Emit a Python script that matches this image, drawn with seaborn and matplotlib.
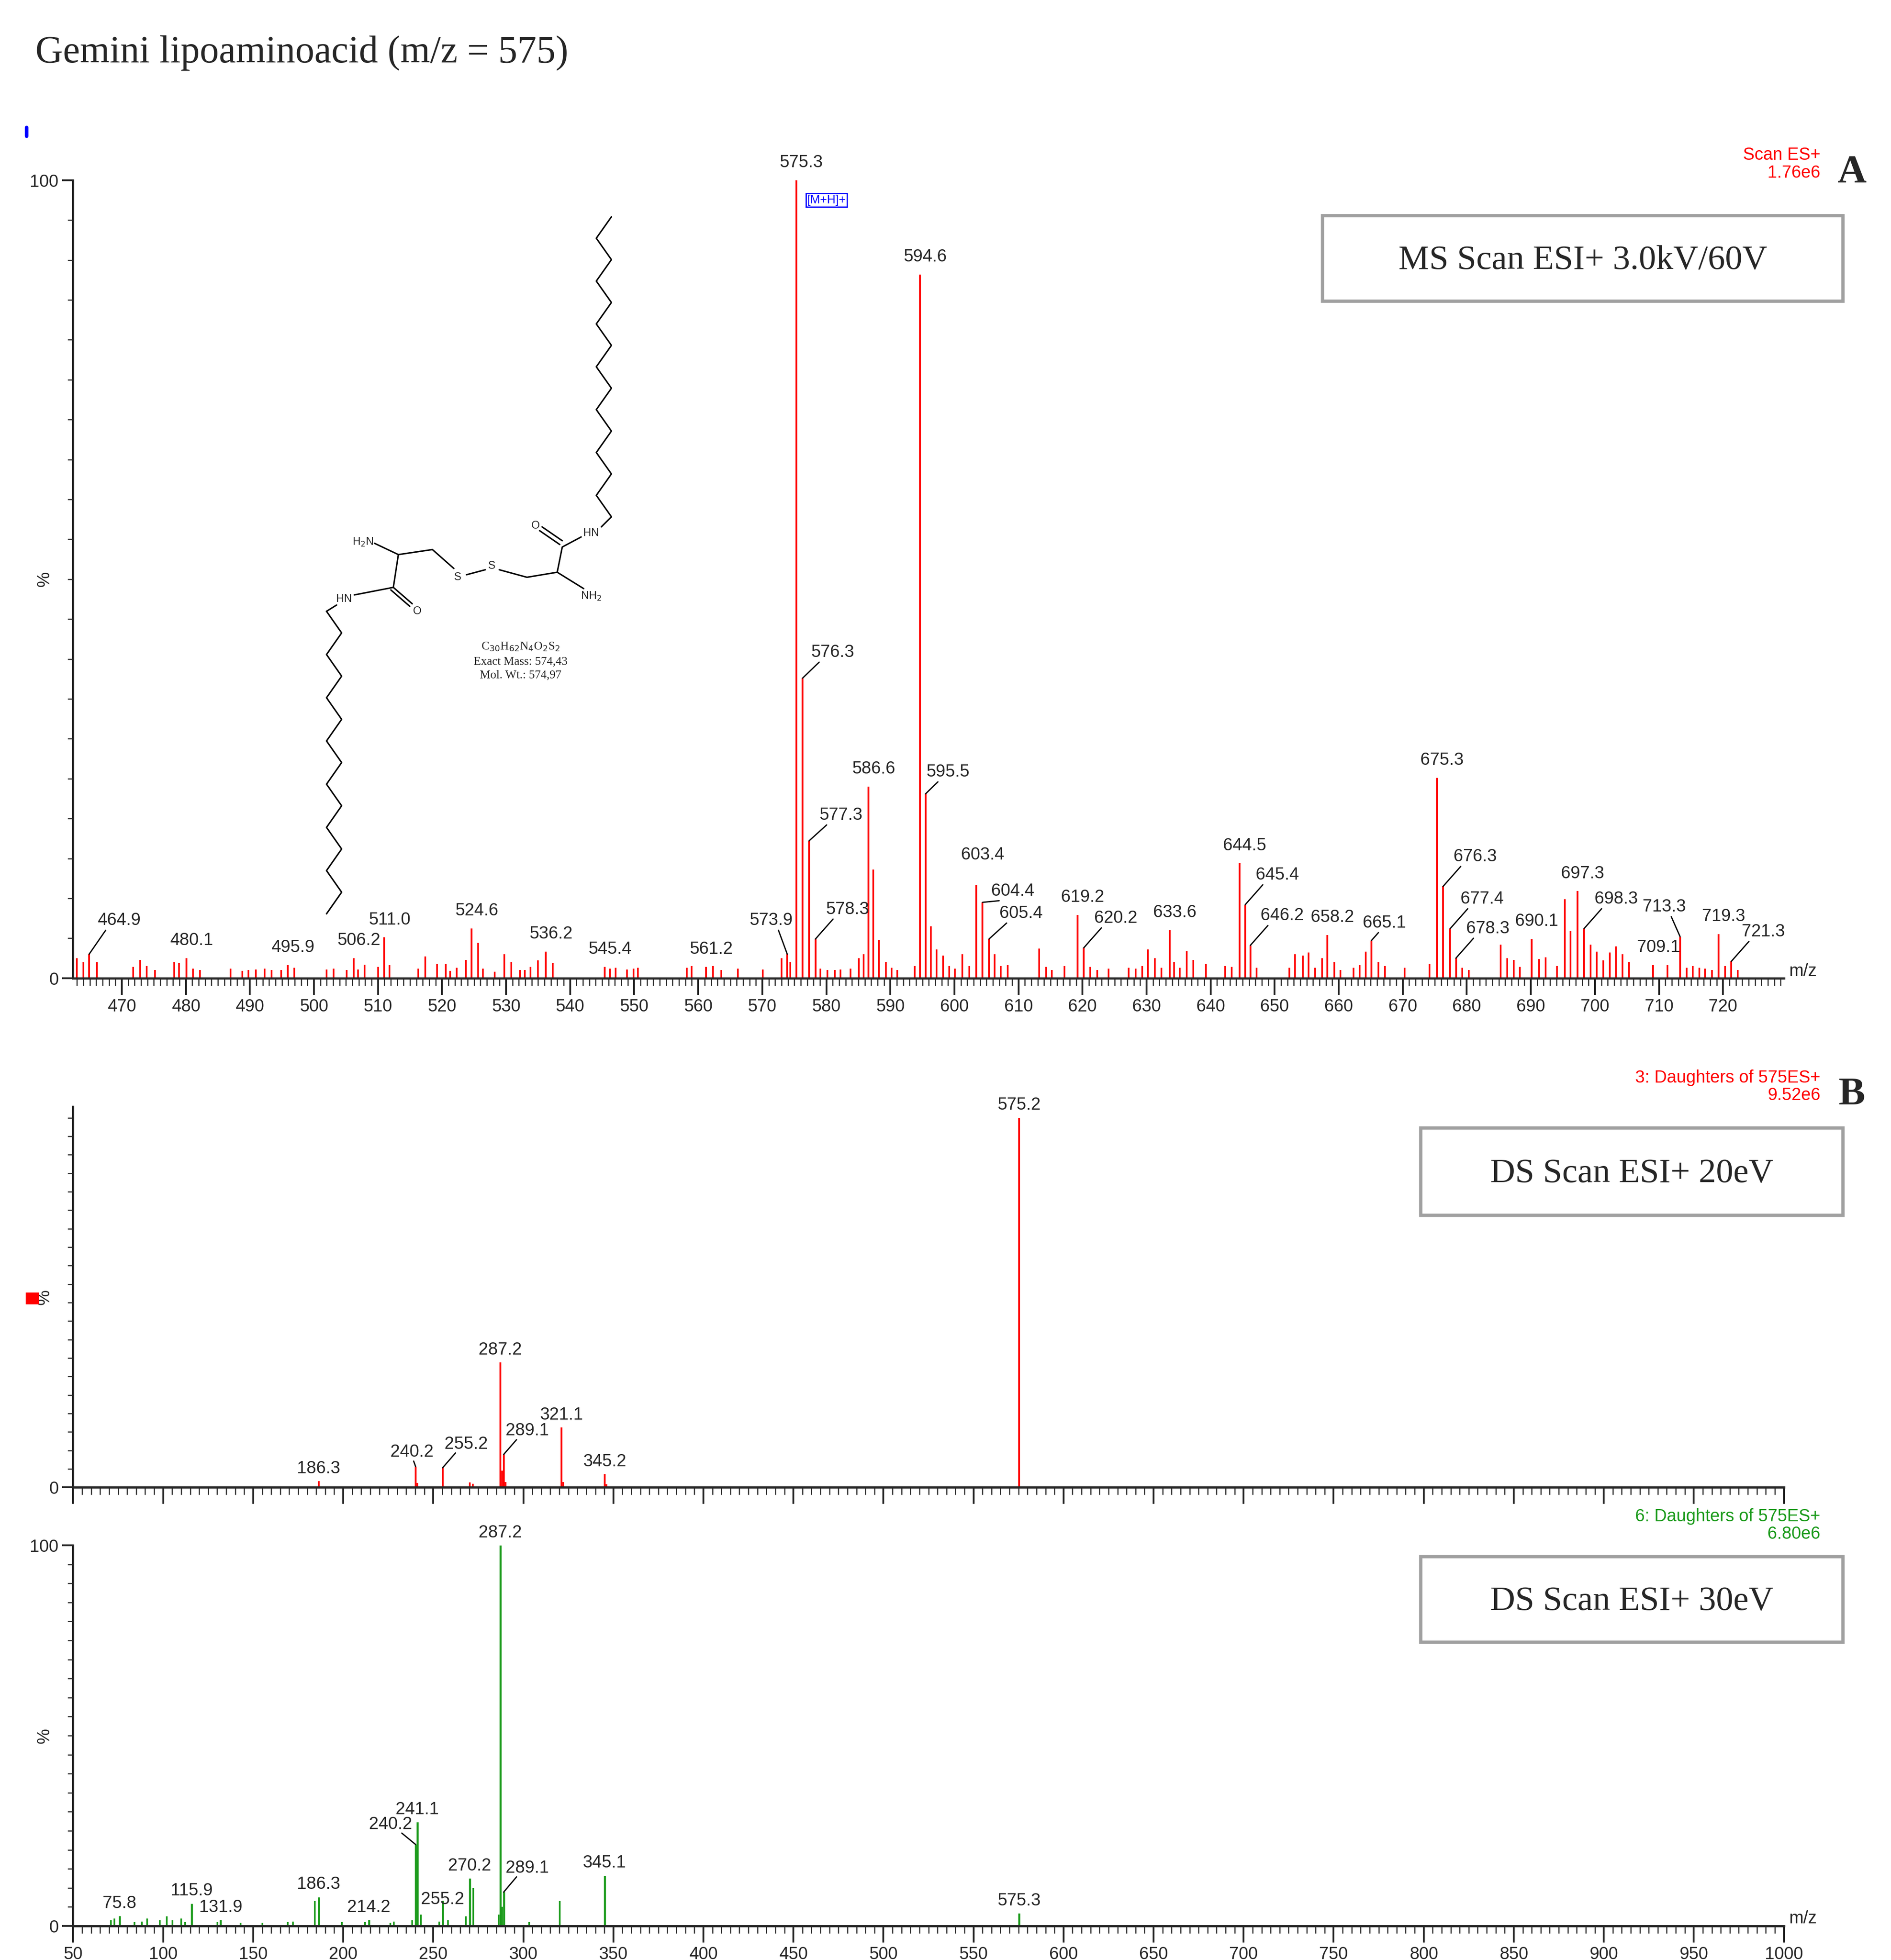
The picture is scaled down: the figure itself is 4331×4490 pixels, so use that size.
import matplotlib
matplotlib.use("Agg")
import matplotlib.pyplot as plt
import numpy as np
import seaborn as sns
from matplotlib.ticker import MultipleLocator

sns.set_style("ticks")
plt.rcParams["font.family"] = ["Liberation Sans", "DejaVu Sans"]

# ---- Panel A: MS scan ----
a_peaks = [464.9, 480.1, 495.9, 506.2, 511.0, 524.6, 536.2, 545.4, 561.2, 573.9,
           575.3, 576.3, 577.3, 578.3, 586.6, 594.6, 595.5, 603.4, 604.4, 605.4,
           619.2, 620.2, 633.6, 644.5, 645.4, 646.2, 658.2, 665.1, 675.3, 676.3,
           677.4, 678.3, 690.1, 697.3, 698.3, 709.1, 713.3, 719.3, 721.3]
a_heights = [3.0, 2.5, 1.6, 2.5, 5.1, 6.2, 3.3, 1.4, 1.4, 3.0,
             100, 37.6, 17.2, 4.9, 24.0, 88.2, 23.1, 11.7, 9.5, 4.9,
             7.9, 3.8, 6.0, 14.4, 9.2, 4.1, 5.4, 4.7, 25.1, 11.5,
             6.2, 2.5, 4.9, 10.9, 6.2, 1.6, 5.2, 5.5, 2.1]
a_minor_mz = [463.0, 464.0, 466.1, 471.8, 472.9, 473.9, 475.2, 478.2, 478.9, 481.1,
              482.2, 487.0, 488.8, 489.8, 490.9, 492.3, 493.4, 494.9, 496.9, 502.0,
              503.1, 505.1, 506.9, 507.9, 510.0, 511.8, 516.3, 517.4, 519.2, 520.6,
              521.3, 522.3, 523.7, 525.6, 526.4, 528.2, 529.7, 530.8, 532.2, 532.9,
              533.8, 535.0, 537.3, 546.2, 547.1, 548.9, 549.9, 550.6, 558.2, 559.0,
              562.3, 563.6, 566.2, 570.1, 573.0, 574.4, 579.1, 580.2, 581.3, 582.2,
              583.8, 585.1, 585.8, 587.3, 588.2, 589.3, 590.2, 591.1, 593.8, 596.3,
              597.2, 598.2, 599.2, 600.1, 601.2, 602.3, 606.3, 607.2, 608.3, 613.2,
              614.3, 615.2, 617.2, 621.2, 622.3, 624.1, 627.2, 628.3, 629.3, 630.2,
              631.3, 632.3, 634.3, 635.2, 636.3, 637.3, 639.3, 642.3, 643.3, 647.2,
              652.3, 653.2, 654.4, 655.3, 656.3, 657.4, 659.3, 660.3, 662.3, 663.3,
              664.2, 666.2, 667.2, 670.3, 674.2, 679.3, 680.3, 685.3, 686.3, 687.3,
              688.3, 691.3, 692.3, 694.1, 695.3, 696.2, 699.3, 700.3, 701.3, 702.3,
              703.3, 704.3, 705.3, 711.3, 714.3, 715.3, 716.3, 717.2, 718.3, 720.3,
              722.3]
a_minor_h = [2.5, 2.0, 2.0, 1.4, 2.3, 1.5, 1.0, 2.0, 1.9, 1.2,
             1.0, 1.2, 0.9, 1.0, 1.1, 1.2, 1.0, 1.0, 1.3, 1.1,
             1.2, 1.0, 1.1, 1.7, 1.4, 1.6, 1.2, 2.7, 1.8, 1.8,
             0.9, 1.3, 2.3, 4.4, 1.2, 0.8, 3.0, 2.0, 1.0, 1.0,
             1.4, 2.2, 1.9, 1.2, 1.3, 1.1, 1.2, 1.3, 1.3, 1.5,
             1.5, 1.0, 1.2, 1.1, 2.5, 2.0, 1.2, 1.0, 1.0, 1.1,
             1.2, 2.5, 3.0, 13.6, 4.8, 2.0, 1.3, 1.0, 1.5, 6.5,
             3.6, 2.8, 1.5, 1.2, 3.0, 1.5, 3.0, 1.5, 1.6, 3.7,
             1.4, 1.0, 1.5, 1.4, 1.0, 1.2, 1.3, 1.2, 1.5, 3.6,
             2.5, 1.3, 2.0, 1.3, 3.4, 2.3, 1.8, 1.5, 1.4, 1.3,
             1.3, 3.0, 2.8, 3.2, 1.3, 2.5, 2.0, 1.0, 1.3, 1.6,
             3.3, 2.0, 1.5, 1.3, 1.8, 1.3, 1.0, 4.2, 2.5, 2.3,
             1.4, 2.4, 2.6, 1.5, 9.9, 5.9, 4.2, 3.3, 2.2, 3.2,
             4.0, 3.0, 2.0, 1.6, 1.3, 1.5, 1.3, 1.2, 1.0, 1.5,
             1.0]

# ---- Panel B1: daughters of 575, 20 eV ----
b1_peaks = [186.3, 240.2, 255.2, 287.2, 289.1, 321.1, 345.2, 575.2]
b1_heights = [1.7, 5.6, 5.3, 33.8, 8.9, 16.2, 3.6, 100]
b1_minor_mz = [241.1, 270.2, 272.1, 288.2, 290.1, 322.1, 346.2]
b1_minor_h = [1.2, 1.3, 1.0, 4.5, 1.5, 1.5, 0.8]

# ---- Panel B2: daughters of 575, 30 eV ----
b2_peaks = [75.8, 115.9, 131.9, 186.3, 214.2, 240.2, 241.1, 255.2, 270.2, 289.1, 345.1, 575.3, 287.2]
b2_heights = [2.6, 5.9, 1.6, 7.6, 1.6, 21.4, 27.3, 6.6, 12.5, 8.9, 13.2, 3.3, 100]
b2_minor_mz = [71.0, 73.0, 84.0, 88.1, 91.0, 98.1, 102.1, 105.1, 110.1, 112.1,
               130.1, 143.1, 155.1, 169.1, 172.1, 184.2, 199.2, 212.2, 226.2, 228.2,
               238.2, 243.2, 253.2, 258.2, 268.2, 272.2, 286.2, 288.2, 303.2, 320.2]
b2_minor_h = [1.5, 2.0, 1.0, 1.2, 2.0, 1.5, 2.5, 1.5, 2.0, 1.0,
              1.0, 0.8, 0.8, 1.0, 1.2, 6.5, 1.0, 1.0, 0.8, 1.2,
              1.5, 3.0, 1.2, 1.5, 2.5, 10.0, 3.0, 5.0, 1.0, 6.5]

# label shifts (x in data units, y in %) for labels drawn with a leader line
a_shift = {464.9: (4.7, 2), 573.9: (-2.5, 2), 576.3: (4.7, 1), 577.3: (5, 1),
           578.3: (5, 1.5), 595.5: (3.5, 0.5), 603.4: (1.0, 1.5), 604.4: (4.7, -0.8),
           605.4: (5, 1.0), 620.2: (5, 1.5), 645.4: (5, 1.5), 646.2: (5, 1.5),
           665.1: (2.0, 0), 676.3: (5, 1.5), 677.4: (5, 1.5), 678.3: (5, 1.5),
           698.3: (5, 1.5), 713.3: (-2.5, 1.5), 721.3: (5, 1.5)}
b1_shift = {240.2: (-2, 0.5), 255.2: (13, 3), 289.1: (13, 3)}
b2_shift = {240.2: (-14, 2), 289.1: (13, 3), 255.2: (0, -3)}

W, H = 4331, 4490
DPI = 300
fig = plt.figure(figsize=(W / DPI, H / DPI), dpi=DPI)

# reference drawn on a 1500 x 1555 grid
def fx(x):
    return x / 1500.0


def fy(y):
    return 1 - y / 1555.0


RED = "#ff0000"
GREEN = "#1a9a1a"
TFS = 9.5
LFS = 9.5


def style_axis(ax, xlim, major, minor):
    ax.set_xlim(*xlim)
    ax.set_ylim(0, 100)
    sns.despine(ax=ax)
    ax.xaxis.set_major_locator(MultipleLocator(major))
    ax.xaxis.set_minor_locator(MultipleLocator(minor))
    ax.yaxis.set_minor_locator(MultipleLocator(5))
    ax.tick_params(axis="x", which="major", length=9, width=1.0, labelsize=TFS, pad=2)
    ax.tick_params(axis="x", which="minor", length=4, width=0.6)
    ax.tick_params(axis="y", which="major", length=6, width=1.0, labelsize=TFS, pad=2)
    ax.tick_params(axis="y", which="minor", length=3, width=0.6)
    for s in ("left", "bottom"):
        ax.spines[s].set_linewidth(1.2)
    ax.text(-0.012, 0.5, "%", transform=ax.transAxes, rotation=90, ha="right",
            va="center", fontsize=TFS)
    ax.set_facecolor("none")


def label_peaks(ax, mz, h, shifts, base_dx):
    for m, v in zip(mz, h):
        dx, dy = shifts.get(m, (base_dx, 0))
        ax.text(m + dx, v + 1.2 + dy, f"{m:.1f}", ha="center", va="bottom", fontsize=LFS)
        if m in shifts and abs(dx) > 1.5:
            ax.plot([m, m + dx * 0.55], [v, v + 1.0 + dy], color="k", lw=0.7)


# ---- Panel A ----
axA = fig.add_axes([fx(58), fy(776), fx(1415 - 58), fy(143) - fy(776)])
axA.vlines(a_minor_mz, 0, a_minor_h, color=RED, lw=0.9)
axA.vlines(a_peaks, 0, a_heights, color=RED, lw=1.0)
style_axis(axA, (462.4, 729.5), 10, 1)
axA.set_yticks([0, 100])
label_peaks(axA, a_peaks, a_heights, a_shift, 0.8)
axA.text(1.003, -0.002, "m/z", transform=axA.transAxes, ha="left", va="bottom", fontsize=TFS)
axA.text(577.0, 97.5, "[M+H]+", fontsize=6.5, color="blue", ha="left", va="center",
         bbox=dict(boxstyle="square,pad=0.1", fc="none", ec="blue", lw=0.7))

# ---- Panel B1 ----
axB1 = fig.add_axes([fx(58), fy(1180), fx(1415 - 58), fy(878) - fy(1180)])
axB1.vlines(b1_minor_mz, 0, b1_minor_h, color=RED, lw=0.9)
axB1.vlines(b1_peaks, 0, b1_heights, color=RED, lw=1.0)
style_axis(axB1, (50, 1000), 50, 5)
axB1.set_yticks([0])
axB1.set_ylim(0, 103)
axB1.set_xticklabels([])
label_peaks(axB1, b1_peaks, b1_heights, b1_shift, 0)

# ---- Panel B2 ----
axB2 = fig.add_axes([fx(58), fy(1528), fx(1415 - 58), fy(1226) - fy(1528)])
axB2.vlines(b2_minor_mz, 0, b2_minor_h, color=GREEN, lw=0.9)
axB2.vlines(b2_peaks, 0, b2_heights, color=GREEN, lw=1.1)
style_axis(axB2, (50, 1000), 50, 5)
axB2.set_yticks([0, 100])
axB2.set_xticks(np.arange(50, 1001, 50))
label_peaks(axB2, b2_peaks, b2_heights, b2_shift, 0)
axB2.text(1.003, -0.002, "m/z", transform=axB2.transAxes, ha="left", va="bottom", fontsize=TFS)

# ---- overlay: title, boxes, labels, structure ----
ov = fig.add_axes([0, 0, 1, 1])
ov.set_xlim(0, 1500)
ov.set_ylim(1555, 0)
ov.axis("off")
ov.patch.set_alpha(0)

SERIF = ["Liberation Serif", "DejaVu Serif"]
ov.text(28, 42, "Gemini lipoaminoacid (m/z = 575)", family=SERIF, fontsize=21,
        ha="left", va="center")

for (x0, y0, x1, y1, txt) in [(1049, 171, 1462, 239, "MS Scan ESI+ 3.0kV/60V"),
                              (1127, 895, 1462, 964, "DS Scan ESI+ 20eV"),
                              (1127, 1235, 1462, 1303, "DS Scan ESI+ 30eV")]:
    ov.add_patch(plt.Rectangle((x0, y0), x1 - x0, y1 - y0, fill=False, ec="#a0a0a0", lw=1.8))
    ov.text((x0 + x1) / 2, (y0 + y1) / 2 + 2, txt, family=SERIF, fontsize=19,
            ha="center", va="center")

for (y, l1, l2, c, letter) in [(123, "Scan ES+", "1.76e6", RED, "A"),
                               (855, "3: Daughters of 575ES+", "9.52e6", RED, "B"),
                               (1203, "6: Daughters of 575ES+", "6.80e6", GREEN, None)]:
    ov.text(1444, y, l1, color=c, fontsize=9.5, ha="right", va="center")
    ov.text(1444, y + 14, l2, color=c, fontsize=9.5, ha="right", va="center")
    if letter:
        ov.text(1469, y + 14, letter, family=SERIF, fontsize=22, fontweight="bold",
                ha="center", va="center")

ov.plot([21, 21], [101, 108], color="blue", lw=2)
ov.add_patch(plt.Rectangle((21, 1026), 9, 8, color=RED))

# chemical structure (approximate line drawing)
lw_s = 0.8
top_y = np.linspace(410, 172, 15)
top_x = np.where(np.arange(15) % 2 == 0, 485, 473)
ov.plot(top_x, top_y, color="k", lw=lw_s)
bot_y = np.linspace(485, 725, 15)
bot_x = np.where(np.arange(15) % 2 == 0, 259, 271)
ov.plot(bot_x, bot_y, color="k", lw=lw_s)
ov.plot([485, 477], [410, 418], color="k", lw=lw_s)
ov.plot([461, 446, 442, 418, 396], [426, 434, 454, 458, 452], color="k", lw=lw_s)
ov.plot([428, 444], [421, 432], color="k", lw=lw_s)
ov.plot([430, 446], [418, 429], color="k", lw=lw_s)
ov.plot([442, 463], [454, 467], color="k", lw=lw_s)
ov.plot([385, 370], [452, 456], color="k", lw=lw_s)
ov.plot([360, 343, 316, 297], [451, 436, 440, 431], color="k", lw=lw_s)
ov.plot([316, 312, 281], [440, 466, 472], color="k", lw=lw_s)
ov.plot([312, 327], [466, 479], color="k", lw=lw_s)
ov.plot([310, 325], [468, 481], color="k", lw=lw_s)
ov.plot([267, 259], [480, 485], color="k", lw=lw_s)
sfs = 6
for (x, y, t) in [(288, 430, "H$_2$N"), (363, 458, "S"), (390, 449, "S"),
                  (425, 417, "O"), (469, 423, "HN"), (469, 473, "NH$_2$"),
                  (273, 475, "HN"), (331, 485, "O")]:
    ov.text(x, y, t, fontsize=sfs, ha="center", va="center")
for (y, t) in [(513, "C$_{30}$H$_{62}$N$_4$O$_2$S$_2$"), (525, "Exact Mass: 574,43"),
               (536, "Mol. Wt.: 574,97")]:
    ov.text(413, y, t, family=SERIF, fontsize=6.5, ha="center", va="center")

fig.savefig("out.png", dpi=DPI)
